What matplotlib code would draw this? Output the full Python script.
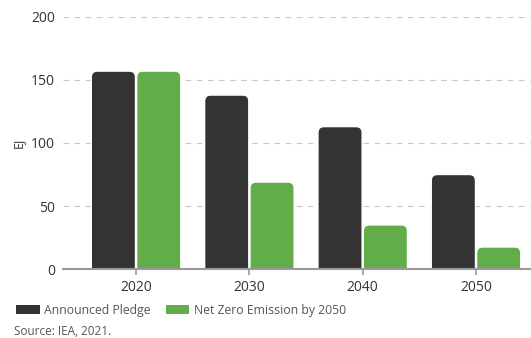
import numpy as np
import matplotlib.pyplot as plt
from matplotlib.patches import FancyBboxPatch, Patch

# Energy demand by scenario (EJ)
years = ["2020", "2030", "2040", "2050"]
announced_pledge = [157, 138, 113, 75]
net_zero = [157, 69, 35, 17.5]

dark = "#333333"
green = "#62ad4a"

plt.rcParams["font.family"] = ["Open Sans", "DejaVu Sans"]

fig = plt.figure(figsize=(5.31, 3.38), dpi=100)
ax = fig.add_axes([0.119, 0.204, 0.881, 0.746])

x = np.arange(len(years))
width = 0.39
xlim = (-0.643, 3.485)
ylim = (0, 200)
ax.set_xlim(*xlim)
ax.set_ylim(*ylim)

# rounded tops: aspect between data units per pixel in y and x
px_w = ax.get_position().width * fig.get_figwidth() * fig.dpi
px_h = ax.get_position().height * fig.get_figheight() * fig.dpi
aspect = ((ylim[1] - ylim[0]) / px_h) / ((xlim[1] - xlim[0]) / px_w)
radius = 6 * (xlim[1] - xlim[0]) / px_w

def rounded_bar(xc, h, color):
    left = xc - width / 2
    patch = FancyBboxPatch((left, -20), width, h + 20,
                           boxstyle=f"round,pad=0,rounding_size={radius}",
                           mutation_aspect=aspect,
                           facecolor=color, edgecolor="white", linewidth=1,
                           zorder=3)
    ax.add_patch(patch)

for xi, a, n in zip(x, announced_pledge, net_zero):
    rounded_bar(xi - width / 2 - 0.005, a, dark)
    rounded_bar(xi + width / 2 + 0.005, n, green)

ax.set_yticks([0, 50, 100, 150, 200])
ax.yaxis.grid(True, linestyle=(0, (5, 5)), color="#c8c8c8", linewidth=0.8)
ax.set_axisbelow(True)
ax.set_xticks(x)
ax.set_xticklabels(years)

for side in ["left", "right", "top"]:
    ax.spines[side].set_visible(False)
ax.spines["bottom"].set_color("#9a9a9a")
ax.spines["bottom"].set_linewidth(1.5)
ax.spines["bottom"].set_zorder(4)

ax.tick_params(axis="y", length=0, pad=6, labelsize=10, labelcolor="#333333")
ax.tick_params(axis="x", length=4, width=1.2, color="#9a9a9a", pad=4,
               labelsize=10, labelcolor="#333333")

ax.set_ylabel("EJ", fontsize=9, color="#333333", labelpad=4)

handles = [Patch(facecolor=dark, label="Announced Pledge"),
           Patch(facecolor=green, label="Net Zero Emission by 2050")]
fig.legend(handles=handles, loc="lower left", bbox_to_anchor=(0.01, 0.03),
           ncol=2, frameon=False, fontsize=8.8, labelcolor="#555555",
           handlelength=1.9, handleheight=0.75, handletextpad=0.4,
           columnspacing=1.2)

fig.text(0.026, 0.01, "Source: IEA, 2021.", fontsize=8.5, color="#555555")

fig.savefig("out.png", dpi=100)
